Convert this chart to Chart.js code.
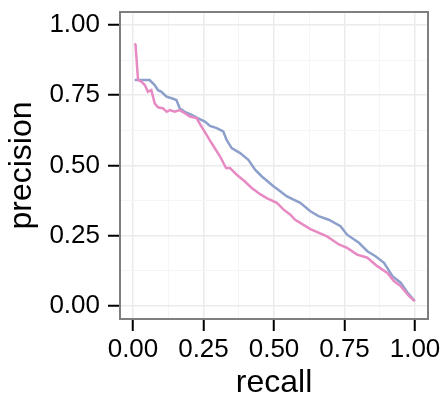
<!DOCTYPE html>
<html>
<head>
<meta charset="utf-8">
<script src="https://cdn.jsdelivr.net/npm/chart.js@4/dist/chart.umd.min.js"></script>
<style>
  html, body { margin: 0; padding: 0; background: #fff; }
  #wrap { width: 445px; height: 398px; position: relative; }
</style>
</head>
<body>
<div id="wrap"><canvas id="prChart"></canvas></div>
<script>
// two precision-recall curves
const recallPink = [0.006, 0.009, 0.018, 0.030, 0.042, 0.053, 0.065, 0.077, 0.089, 0.107, 0.119, 0.131,
  0.148, 0.166, 0.184, 0.202, 0.226, 0.243, 0.261, 0.279, 0.309, 0.330, 0.344, 0.368, 0.397, 0.421,
  0.451, 0.474, 0.510, 0.534, 0.558, 0.575, 0.593, 0.629, 0.688, 0.730, 0.759, 0.795, 0.831, 0.866,
  0.902, 0.925, 0.949, 0.979, 0.999];
const precisionPink = [0.934, 0.930, 0.804, 0.798, 0.786, 0.762, 0.768, 0.721, 0.707, 0.703, 0.691, 0.697,
  0.691, 0.697, 0.686, 0.674, 0.668, 0.638, 0.609, 0.579, 0.532, 0.491, 0.491, 0.467, 0.443, 0.420,
  0.398, 0.384, 0.367, 0.343, 0.325, 0.307, 0.296, 0.274, 0.248, 0.219, 0.207, 0.183, 0.172, 0.142,
  0.118, 0.089, 0.071, 0.035, 0.018];

const recallBlue = [0.006, 0.059, 0.077, 0.089, 0.101, 0.119, 0.137, 0.154, 0.166, 0.184, 0.208, 0.231,
  0.255, 0.273, 0.297, 0.320, 0.332, 0.350, 0.380, 0.409, 0.433, 0.457, 0.498, 0.522, 0.546, 0.593,
  0.629, 0.658, 0.694, 0.736, 0.759, 0.801, 0.831, 0.860, 0.890, 0.920, 0.949, 0.973, 0.999];
const precisionBlue = [0.804, 0.804, 0.786, 0.768, 0.762, 0.745, 0.739, 0.733, 0.703, 0.691, 0.680, 0.668,
  0.656, 0.641, 0.633, 0.621, 0.591, 0.562, 0.544, 0.520, 0.485, 0.461, 0.426, 0.408, 0.390, 0.367,
  0.337, 0.320, 0.307, 0.284, 0.254, 0.225, 0.195, 0.177, 0.154, 0.106, 0.083, 0.048, 0.018];

const majorTicks = [0, 0.25, 0.5, 0.75, 1];
const minorTicks = [0.125, 0.375, 0.625, 0.875];

const toPoints = (xs, ys) => xs.map((x, i) => ({ x: x, y: ys[i] }));

const isMajor = v => majorTicks.some(m => Math.abs(m - v) < 1e-6);

const gridTicks = scale => {
  scale.ticks = majorTicks.concat(minorTicks).sort((a, b) => a - b).map(v => ({ value: v }));
};

const axisCommon = {
  type: "linear",
  min: -0.046,
  max: 1.046,
  afterBuildTicks: gridTicks,
  grid: {
    color: ctx => isMajor(ctx.tick.value) ? "#ebebeb" : "#f5f5f5",
    lineWidth: ctx => isMajor(ctx.tick.value) ? 1.5 : 1,
    tickColor: ctx => isMajor(ctx.tick.value) ? "#000" : "rgba(0,0,0,0)",
    tickWidth: 2,
    tickLength: 12,
  },
  border: { display: false },
  ticks: {
    autoSkip: false,
    maxRotation: 0,
    color: "#000",
    font: { family: "Liberation Sans", size: 26 },
    callback: v => isMajor(v) ? v.toFixed(2) : "",
  },
};

// gray box around the panel, like theme_bw
const panelBorder = {
  id: "panelBorder",
  afterDraw(chart) {
    const a = chart.chartArea;
    const c = chart.ctx;
    c.save();
    c.strokeStyle = "#7f7f7f";
    c.lineWidth = 2;
    c.strokeRect(a.left, a.top, a.right - a.left, a.bottom - a.top);
    c.restore();
  },
};

const ctx = document.getElementById("prChart");
new Chart(ctx, {
  type: "scatter",
  data: {
    datasets: [
      {
        label: "pink",
        data: toPoints(recallPink, precisionPink),
        showLine: true,
        borderColor: "#E78AC3",
        backgroundColor: "#E78AC3",
        borderWidth: 2.5,
        pointRadius: 0,
        tension: 0,
      },
      {
        label: "blue",
        data: toPoints(recallBlue, precisionBlue),
        showLine: true,
        borderColor: "#8DA0CB",
        backgroundColor: "#8DA0CB",
        borderWidth: 2.5,
        pointRadius: 0,
        tension: 0,
      },
    ],
  },
  options: {
    responsive: true,
    maintainAspectRatio: false,
    animation: false,
    layout: { padding: { top: 12, right: 17, left: 0, bottom: 0 } },
    plugins: {
      legend: { display: false },
      tooltip: { enabled: false },
    },
    scales: {
      x: {
        ...axisCommon,
        ticks: { ...axisCommon.ticks, padding: 3 },
        title: {
          display: true,
          text: "recall",
          color: "#000",
          font: { family: "Liberation Sans", size: 32, lineHeight: 1 },
          padding: { top: 0, bottom: -1 },
        },
        afterFit: scale => {
          scale.height = 79;
          scale.paddingLeft = 0;
          scale.paddingRight = 0;
        },
      },
      y: {
        ...axisCommon,
        ticks: { ...axisCommon.ticks, padding: 8 },
        title: {
          display: true,
          text: "precision",
          color: "#000",
          font: { family: "Liberation Sans", size: 32, lineHeight: 1 },
          padding: { top: 6, bottom: 0 },
        },
        afterFit: scale => {
          scale.width = 120;
          scale.paddingTop = 0;
          scale.paddingBottom = 0;
        },
      },
    },
  },
  plugins: [panelBorder],
});
</script>
</body>
</html>
